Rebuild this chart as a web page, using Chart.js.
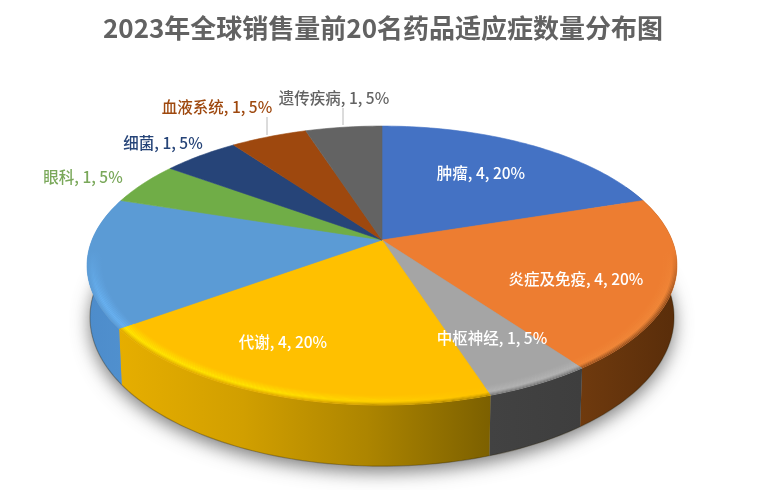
<!DOCTYPE html>
<html>
<head>
<meta charset="utf-8">
<style>
  html, body { margin: 0; padding: 0; background: #fff; }
  canvas { display: block; }
</style>
<script src="https://cdn.jsdelivr.net/npm/chart.js@4/dist/chart.umd.min.js"></script>
</head>
<body>
<canvas id="pie" width="766" height="490"></canvas>
<script>
const chartTitle = '2023年全球销售量前20名药品适应症数量分布图';
const categories = ['肿瘤', '炎症及免疫', '中枢神经', '代谢', '', '眼科', '细菌', '血液系统', '遗传疾病'];
const counts = [4, 4, 1, 4, 3, 1, 1, 1, 1];

const topColors = ['#4472c4', '#ed7d31', '#a5a5a5', '#ffc000', '#5b9bd5', '#70ad47', '#264478', '#9e480e', '#636363'];
// side wall gradient, left to right
const wallColors = [
    ['#2a4578', '#2a4578'],
    ['#6f3a0e', '#592d0a'],
    ['#424242', '#3e3e3e'],
    ['#e6ae00', '#d19f00', '#ad8500', '#7c6000'],
    ['#4d8ccb', '#5090ce'],
    null, null, null, null
];
// rim bevel: outer edge and highlight on the left, then on the right when they differ
const bevelColors = [
    null,
    ['#8a4a1c', '#f08738'],
    ['#6e6e6e', '#b4b4b4'],
    ['#d9a400', '#ffe800', '#a88200', '#ffc400'],
    ['#5b9bd5', '#68b2f2'],
    null, null, null, null
];
const labelColors = ['#ffffff', '#ffffff', '#ffffff', '#ffffff', '#ffffff', '#7aa85a', '#264478', '#9e480e', '#636363'];
const labelCenters = [[481, 173], [576, 279], [492, 338], [283, 342], null, [83, 177], [163, 143], [217, 107], [334, 98]];
const leaderLines = [[267, 117, 267, 135], [343, 108, 343, 125]];

// tilted disc projection
const cx = 382, cy = 240, radX = 290, radY = 134.8, tilt = 0.183, wallH = 50;

function project(r, a) {
    const u = r * Math.cos(a), v = r * Math.sin(a);
    const w = 1 - tilt * v;
    return [cx + radX * u / w, cy + radY * v / w];
}

function projectBottom(a) {
    const u = Math.cos(a), v = Math.sin(a);
    const w = 1 - tilt * v;
    return [cx + 0.99 * radX * u / w, cy + radY * v / w + wallH / w];
}

function arcPoints(fn, a0, a1) {
    const pts = [];
    const n = Math.max(2, Math.ceil(Math.abs(a1 - a0) / 0.02));
    for (let i = 0; i <= n; i++) pts.push(fn(a0 + (a1 - a0) * i / n));
    return pts;
}

function tracePoints(ctx, pts, first) {
    pts.forEach(function(p, i) {
        if (i === 0 && first) ctx.moveTo(p[0], p[1]);
        else ctx.lineTo(p[0], p[1]);
    });
}

function hexRgb(hex) {
    return [1, 3, 5].map(function(i) { return parseInt(hex.substr(i, 2), 16); });
}

function mix(c1, c2, t) {
    return c1.map(function(c, i) { return Math.round(c + (c2[i] - c) * t); });
}

function drawShadow(ctx) {
    ctx.save();
    ctx.shadowColor = 'rgba(70,70,70,0.7)';
    ctx.shadowBlur = 18;
    ctx.shadowOffsetY = 6;
    ctx.fillStyle = '#999';
    ctx.beginPath();
    tracePoints(ctx, arcPoints(projectBottom, 0, Math.PI * 2), true);
    ctx.closePath();
    ctx.fill();
    ctx.restore();
}

function drawWall(ctx, arc, i) {
    if (!wallColors[i]) return;
    const a0 = Math.max(arc.startAngle, -25 * Math.PI / 180);
    const a1 = Math.min(arc.endAngle, 205 * Math.PI / 180);
    if (a1 <= a0) return;
    const upper = arcPoints(function(a) { return project(1, a); }, a0, a1);
    const lower = arcPoints(projectBottom, a0, a1);
    const xs = upper.concat(lower).map(function(p) { return p[0]; });
    const grad = ctx.createLinearGradient(Math.min.apply(null, xs), 0, Math.max.apply(null, xs), 0);
    wallColors[i].forEach(function(c, k, all) { grad.addColorStop(k / (all.length - 1), c); });
    ctx.fillStyle = grad;
    ctx.beginPath();
    tracePoints(ctx, upper, true);
    tracePoints(ctx, lower.slice().reverse(), false);
    ctx.closePath();
    ctx.fill();
    // darker line along the bottom edge
    ctx.strokeStyle = 'rgba(40,30,0,0.3)';
    ctx.lineWidth = 1.2;
    ctx.beginPath();
    tracePoints(ctx, lower, true);
    ctx.stroke();
}

function drawTop(ctx, arc, i) {
    const pts = arcPoints(function(a) { return project(1, a); }, arc.startAngle, arc.endAngle);
    ctx.fillStyle = topColors[i];
    ctx.strokeStyle = topColors[i];
    ctx.lineWidth = 0.6;
    ctx.beginPath();
    ctx.moveTo(cx, cy);
    tracePoints(ctx, pts, false);
    ctx.closePath();
    ctx.fill();
    ctx.stroke();
}

function bevelShade(base, edge, hi, t) {
    const c = t < 0.35 ? mix(edge, hi, t / 0.35) : mix(hi, base, (t - 0.35) / 0.65);
    return c.join(',');
}

function drawBevel(ctx, arc, i) {
    const colors = bevelColors[i];
    if (!colors) return;
    const base = hexRgb(topColors[i]);
    const steps = 12, width = 0.05;
    for (let s = 0; s < steps; s++) {
        const t = (s + 0.5) / steps;
        const r1 = 1 - width * s / steps, r2 = 1 - width * (s + 1) / steps;
        let grad;
        if (colors.length === 4) {
            // highlight dies away towards the right of the slice
            grad = ctx.createLinearGradient(270, 0, 470, 0);
            grad.addColorStop(0, 'rgb(' + bevelShade(base, hexRgb(colors[0]), hexRgb(colors[1]), t) + ')');
            grad.addColorStop(1, 'rgb(' + bevelShade(base, hexRgb(colors[2]), hexRgb(colors[3]), t) + ')');
        } else {
            const rgb = bevelShade(base, hexRgb(colors[0]), hexRgb(colors[1]), t);
            grad = ctx.createLinearGradient(0, cy + 10, 0, cy + 60);
            grad.addColorStop(0, 'rgba(' + rgb + ',0)');
            grad.addColorStop(1, 'rgba(' + rgb + ',1)');
        }
        ctx.fillStyle = grad;
        ctx.beginPath();
        tracePoints(ctx, arcPoints(function(a) { return project(r1, a); }, arc.startAngle, arc.endAngle), true);
        tracePoints(ctx, arcPoints(function(a) { return project(r2, a); }, arc.endAngle, arc.startAngle), false);
        ctx.closePath();
        ctx.fill();
    }
}

function drawLabels(ctx, total) {
    ctx.font = '500 15.5px "Noto Sans CJK SC"';
    ctx.textAlign = 'center';
    ctx.textBaseline = 'middle';
    categories.forEach(function(name, i) {
        if (!name) return;
        const pct = Math.round(counts[i] / total * 100);
        ctx.fillStyle = labelColors[i];
        ctx.fillText(name + ', ' + counts[i] + ', ' + pct + '%', labelCenters[i][0], labelCenters[i][1]);
    });
    ctx.strokeStyle = '#b8b8b8';
    ctx.lineWidth = 1;
    leaderLines.forEach(function(l) {
        ctx.beginPath();
        ctx.moveTo(l[0], l[1]);
        ctx.lineTo(l[2], l[3]);
        ctx.stroke();
    });
}

// replaces the flat arcs with a thick tilted disc, angles come from the pie controller
const tiltedDisc = {
    id: 'tiltedDisc',
    beforeDatasetsDraw(chart) {
        const ctx = chart.ctx;
        const arcs = chart.getDatasetMeta(0).data;
        const total = counts.reduce(function(a, b) { return a + b; }, 0);
        ctx.save();
        drawShadow(ctx);
        arcs.forEach(function(arc, i) { drawWall(ctx, arc, i); });
        arcs.forEach(function(arc, i) { drawTop(ctx, arc, i); });
        arcs.forEach(function(arc, i) { drawBevel(ctx, arc, i); });
        drawLabels(ctx, total);
        ctx.restore();
        return false;
    }
};

new Chart(document.getElementById('pie').getContext('2d'), {
    type: 'pie',
    data: {
        labels: categories,
        datasets: [{ data: counts, backgroundColor: topColors, borderWidth: 0 }]
    },
    options: {
        responsive: false,
        animation: false,
        plugins: {
            legend: { display: false },
            tooltip: { enabled: false },
            title: {
                display: true,
                text: chartTitle,
                color: '#626262',
                font: { family: '"Noto Sans CJK SC"', size: 26, weight: 'bold' },
                padding: { top: 13, bottom: 0 }
            }
        }
    },
    plugins: [tiltedDisc]
});
</script>
</body>
</html>
